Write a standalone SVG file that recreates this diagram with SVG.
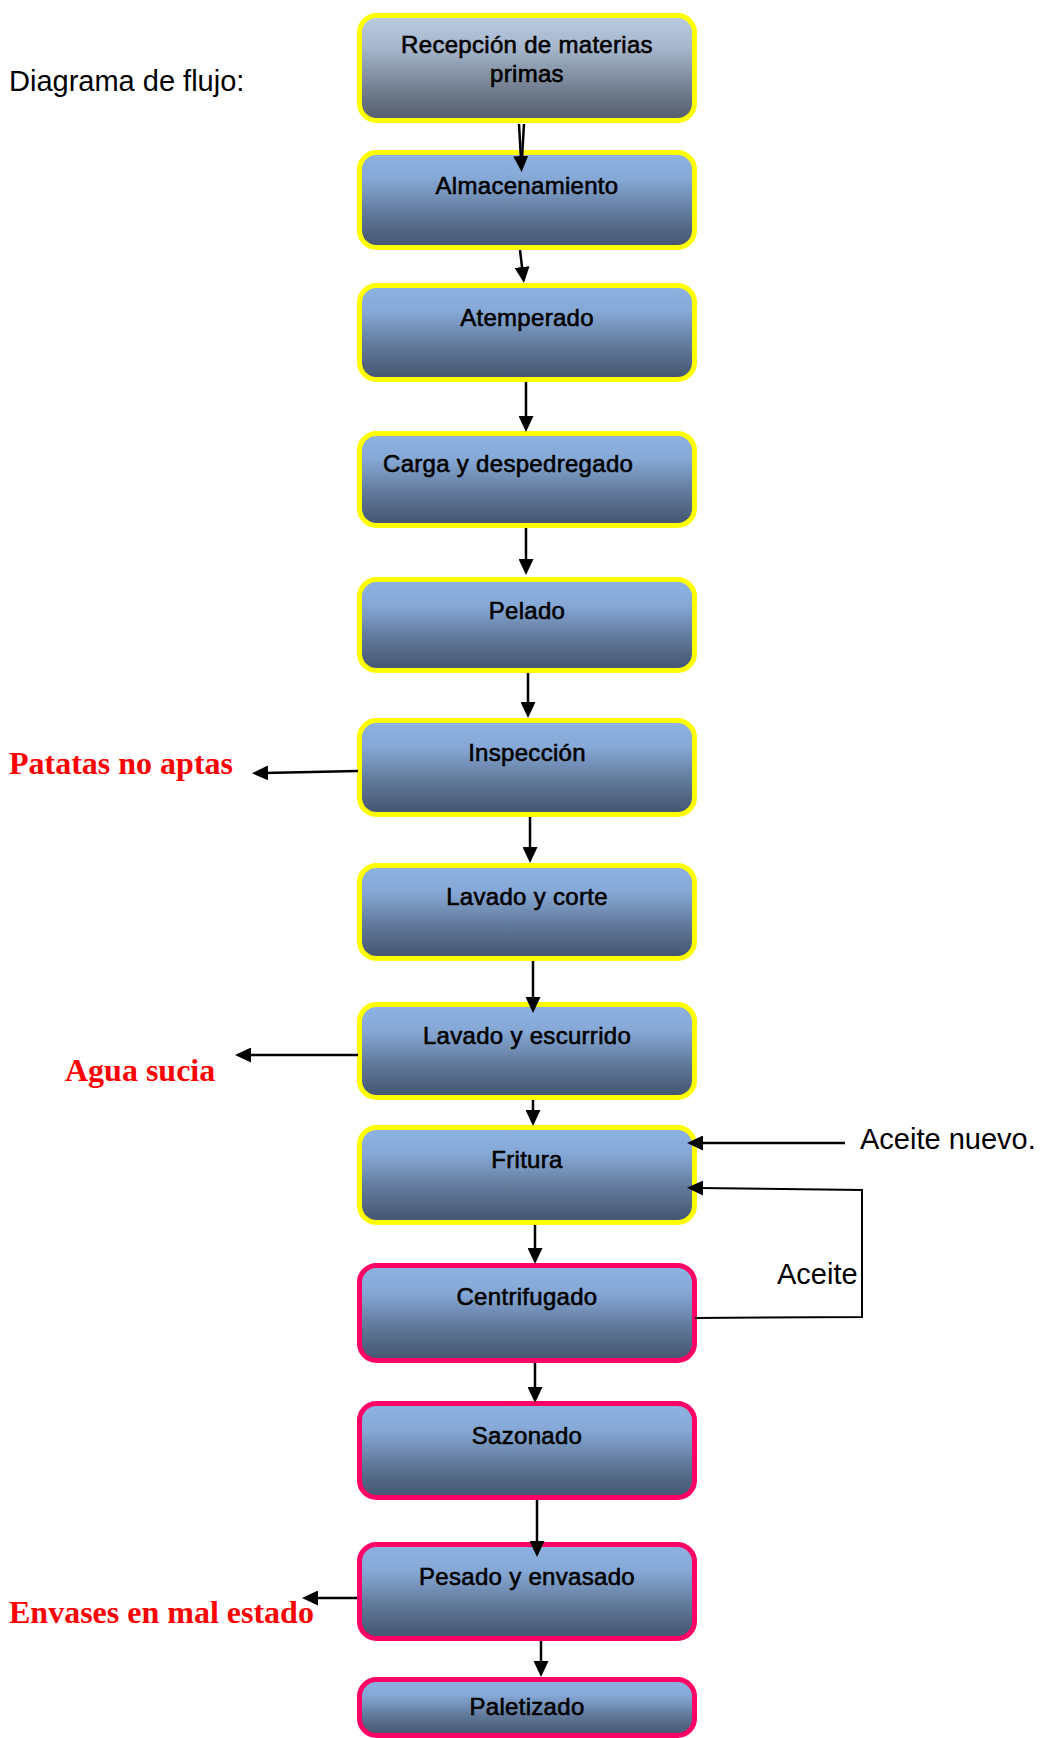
<svg xmlns="http://www.w3.org/2000/svg" width="1040" height="1738" viewBox="0 0 1040 1738">
  <defs>
    <linearGradient id="gradFirst" x1="0" y1="0" x2="0" y2="1">
      <stop offset="0" stop-color="#BACCE3"/>
      <stop offset="0.3" stop-color="#A7B7CC"/>
      <stop offset="0.7" stop-color="#737F90"/>
      <stop offset="1" stop-color="#525C6C"/>
    </linearGradient>
    <linearGradient id="gradStep" x1="0" y1="0" x2="0" y2="1">
      <stop offset="0" stop-color="#8DB3E2"/>
      <stop offset="0.28" stop-color="#86A8D6"/>
      <stop offset="0.65" stop-color="#607899"/>
      <stop offset="1" stop-color="#43546E"/>
    </linearGradient>
    <marker id="arrow" viewBox="0 0 16 15" refX="4" refY="7.5" markerWidth="16" markerHeight="15" markerUnits="userSpaceOnUse" orient="auto">
      <path d="M0,0 L16,7.5 L0,15 z" fill="#000"/>
    </marker>
    <style>
      .box { stroke-width: 5; }
      .yellow { stroke: #FFFF00; }
      .pink { stroke: #FF0066; }
      .label { font-family: "Liberation Sans", Arial, sans-serif; font-size: 24px; letter-spacing: 0.3px; fill: #000; stroke: #000; stroke-width: 0.6px; text-anchor: middle; }
      .note { font-family: "Liberation Sans", Arial, sans-serif; font-size: 29px; fill: #000; }
      .out { font-family: "Liberation Serif", "Times New Roman", serif; font-size: 32px; font-weight: bold; fill: #FF0000; }
      .conn { stroke: #000; stroke-width: 2.5; fill: none; }
      .thin { stroke: #000; stroke-width: 2; fill: none; }
    </style>
  </defs>

  <rect width="1040" height="1738" fill="#FFFFFF"/>

  <text class="note" x="9" y="91">Diagrama de flujo:</text>

  <!-- process steps -->
  <g id="recepcion">
    <rect class="box yellow" x="359.5" y="15.5" width="335" height="105" rx="17" fill="url(#gradFirst)"/>
    <text class="label" x="527" y="53">Recepción de materias</text>
    <text class="label" x="527" y="82">primas</text>
  </g>
  <g id="almacenamiento">
    <rect class="box yellow" x="359.5" y="152.5" width="335" height="95" rx="17" fill="url(#gradStep)"/>
    <text class="label" x="527" y="194">Almacenamiento</text>
  </g>
  <g id="atemperado">
    <rect class="box yellow" x="359.5" y="285.5" width="335" height="94" rx="17" fill="url(#gradStep)"/>
    <text class="label" x="527" y="326">Atemperado</text>
  </g>
  <g id="carga">
    <rect class="box yellow" x="359.5" y="433.5" width="335" height="92" rx="17" fill="url(#gradStep)"/>
    <text class="label" x="383" y="472" style="text-anchor:start">Carga y despedregado</text>
  </g>
  <g id="pelado">
    <rect class="box yellow" x="359.5" y="579.5" width="335" height="91" rx="17" fill="url(#gradStep)"/>
    <text class="label" x="527" y="619">Pelado</text>
  </g>
  <g id="inspeccion">
    <rect class="box yellow" x="359.5" y="720.5" width="335" height="94" rx="17" fill="url(#gradStep)"/>
    <text class="label" x="527" y="761">Inspección</text>
  </g>
  <g id="lavado-corte">
    <rect class="box yellow" x="359.5" y="865.5" width="335" height="93" rx="17" fill="url(#gradStep)"/>
    <text class="label" x="527" y="905">Lavado y corte</text>
  </g>
  <g id="lavado-escurrido">
    <rect class="box yellow" x="359.5" y="1004.5" width="335" height="93" rx="17" fill="url(#gradStep)"/>
    <text class="label" x="527" y="1044">Lavado y escurrido</text>
  </g>
  <g id="fritura">
    <rect class="box yellow" x="359.5" y="1127.5" width="335" height="95" rx="17" fill="url(#gradStep)"/>
    <text class="label" x="527" y="1168">Fritura</text>
  </g>
  <g id="centrifugado">
    <rect class="box pink" x="359.5" y="1265.5" width="335" height="95" rx="17" fill="url(#gradStep)"/>
    <text class="label" x="527" y="1305">Centrifugado</text>
  </g>
  <g id="sazonado">
    <rect class="box pink" x="359.5" y="1403.5" width="335" height="94" rx="17" fill="url(#gradStep)"/>
    <text class="label" x="527" y="1444">Sazonado</text>
  </g>
  <g id="pesado">
    <rect class="box pink" x="359.5" y="1544.5" width="335" height="94" rx="17" fill="url(#gradStep)"/>
    <text class="label" x="527" y="1585">Pesado y envasado</text>
  </g>
  <g id="paletizado">
    <rect class="box pink" x="359.5" y="1679.5" width="335" height="56" rx="17" fill="url(#gradStep)"/>
    <text class="label" x="527" y="1715">Paletizado</text>
  </g>

  <!-- side outputs and inputs -->
  <text class="out" x="9" y="774">Patatas no aptas</text>
  <text class="out" x="65" y="1081">Agua sucia</text>
  <text class="out" x="9" y="1623">Envases en mal estado</text>
  <text class="note" x="860" y="1149">Aceite nuevo.</text>
  <text class="note" x="777" y="1284">Aceite</text>

  <!-- connectors -->
  <g id="connectors">
    <line class="conn" x1="519" y1="124" x2="521" y2="160" marker-end="url(#arrow)"/>
    <line class="conn" x1="524" y1="124" x2="522" y2="158"/>
    <line class="conn" x1="520" y1="250" x2="522.5" y2="271" marker-end="url(#arrow)"/>
    <line class="conn" x1="526" y1="382" x2="526" y2="420" marker-end="url(#arrow)"/>
    <line class="conn" x1="526" y1="528" x2="526" y2="563" marker-end="url(#arrow)"/>
    <line class="conn" x1="528" y1="673" x2="528" y2="706" marker-end="url(#arrow)"/>
    <line class="conn" x1="530" y1="817" x2="530" y2="851" marker-end="url(#arrow)"/>
    <line class="conn" x1="533" y1="961" x2="533" y2="1001" marker-end="url(#arrow)"/>
    <line class="conn" x1="533" y1="1100" x2="533" y2="1114" marker-end="url(#arrow)"/>
    <line class="conn" x1="535" y1="1225" x2="535" y2="1252" marker-end="url(#arrow)"/>
    <line class="conn" x1="535" y1="1363" x2="535" y2="1391" marker-end="url(#arrow)"/>
    <line class="conn" x1="537" y1="1500" x2="537" y2="1545" marker-end="url(#arrow)"/>
    <line class="conn" x1="541" y1="1641" x2="541" y2="1665" marker-end="url(#arrow)"/>

    <line class="conn" x1="358" y1="771" x2="264" y2="773" marker-end="url(#arrow)"/>
    <line class="conn" x1="358" y1="1055" x2="247" y2="1055" marker-end="url(#arrow)"/>
    <line class="conn" x1="357" y1="1598" x2="314" y2="1598" marker-end="url(#arrow)"/>

    <line class="conn" x1="845" y1="1143" x2="699" y2="1143" marker-end="url(#arrow)"/>
    <polyline class="thin" points="695,1318 862,1317 862,1190 699,1188" marker-end="url(#arrow)"/>
  </g>
</svg>
